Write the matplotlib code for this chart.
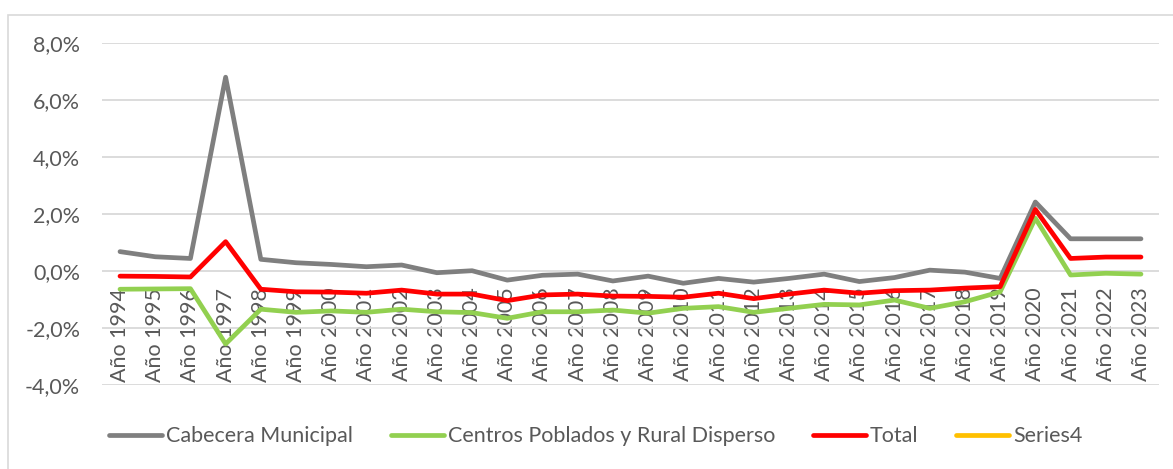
import matplotlib
matplotlib.use("Agg")
import matplotlib.pyplot as plt
import numpy as np
from matplotlib.patches import Rectangle

matplotlib.rcParams.update({
    'font.family': ['Lato', 'DejaVu Sans'],
    'font.size': 15.5,
})

# Data (growth rates, %)
years = [f"Año {y}" for y in range(1994, 2024)]
cabecera = [0.68, 0.50, 0.44, 6.80, 0.41, 0.29, 0.23, 0.15, 0.21, -0.06,
            0.01, -0.32, -0.15, -0.11, -0.35, -0.18, -0.43, -0.26, -0.39, -0.26,
            -0.11, -0.37, -0.23, 0.03, -0.04, -0.26, 2.42, 1.13, 1.13, 1.13]
centros = [-0.64, -0.63, -0.62, -2.56, -1.34, -1.45, -1.40, -1.45, -1.34, -1.43,
           -1.46, -1.66, -1.43, -1.43, -1.37, -1.48, -1.31, -1.25, -1.45, -1.31,
           -1.17, -1.19, -1.02, -1.31, -1.08, -0.73, 1.85, -0.14, -0.08, -0.11]
total = [-0.18, -0.19, -0.21, 1.03, -0.64, -0.73, -0.74, -0.78, -0.67, -0.81,
         -0.81, -1.04, -0.84, -0.81, -0.88, -0.89, -0.92, -0.78, -0.97, -0.81,
         -0.67, -0.78, -0.69, -0.67, -0.60, -0.55, 2.16, 0.44, 0.49, 0.49]
series4 = []  # empty series, only shown in legend

yticks = [-4, -2, 0, 2, 4, 6, 8]
ytick_labels = ["-4,0%", "-2,0%", "0,0%", "2,0%", "4,0%", "6,0%", "8,0%"]

series = [
    ("Cabecera Municipal", cabecera, "#7F7F7F"),
    ("Centros Poblados y Rural Disperso", centros, "#92D050"),
    ("Total", total, "#FF0000"),
    ("Series4", series4, "#FFC000"),
]

fig = plt.figure(figsize=(11.73, 4.69), dpi=100)
ax = fig.add_axes([0.0873, 0.1791, 0.9004, 0.7292])

x = np.arange(len(years))
for name, vals, color in series:
    # lines sit on top of the category labels, as in the original
    ax.plot(x[:len(vals)], vals, color=color, lw=3.4, label=name,
            solid_capstyle='round', solid_joinstyle='round', zorder=3)

ax.set_xlim(-0.5, len(years) - 0.5)
ax.set_ylim(-4, 8)
ax.set_yticks(yticks)
ax.set_yticklabels(ytick_labels)
ax.yaxis.grid(True, color="#D9D9D9", lw=1.3)
ax.set_axisbelow(True)

# category axis crosses at 0
ax.spines['bottom'].set_position(('data', 0))
for s in ['top', 'right', 'left', 'bottom']:
    ax.spines[s].set_visible(False)
ax.set_xticks(x)
ax.set_xticklabels(years, rotation=90, va='top', ha='center')
ax.tick_params(axis='x', length=0, pad=12, colors="#595959")
ax.tick_params(axis='y', length=0, pad=16, colors="#595959")

leg = fig.legend(loc='center', bbox_to_anchor=(0.508, 0.070), ncol=4,
                 frameon=False, handlelength=2.45, handletextpad=0.2,
                 columnspacing=1.75, labelcolor="#595959")
for line in leg.get_lines():
    line.set_linewidth(3.4)
    line.set_solid_capstyle('round')

# chart border
fig.patches.append(Rectangle((8 / 1173, -0.05), 1.2, 1 - 15 / 469 + 0.05,
                             transform=fig.transFigure, fill=False,
                             edgecolor="#D9D9D9", lw=1.2))

fig.savefig("out.png", dpi=100)
